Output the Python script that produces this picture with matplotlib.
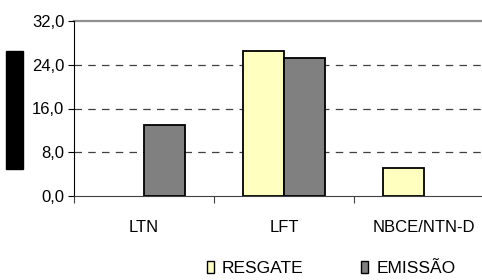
import numpy as np
import matplotlib
matplotlib.use('Agg')
import matplotlib.pyplot as plt
from matplotlib.patches import Patch, Rectangle

plt.rcParams['font.family'] = ['Liberation Sans', 'DejaVu Sans']

# Data
categories = ['LTN', 'LFT', 'NBCE/NTN-D']
resgate = [0.0, 26.5, 5.1]
emissao = [12.9, 25.3, 0.0]
series_names = ['RESGATE', 'EMISSÃO']
y_ticks = [0, 8, 16, 24, 32]

yellow = '#FFFFC0'
gray = '#808080'

fig = plt.figure(figsize=(4.82, 2.80), dpi=100)
ax = fig.add_axes([74 / 482, 84 / 280, 420 / 482, 175 / 280])

x = np.arange(len(categories))
w = 0.293
# skip empty bars so no edge line shows on the axis
for vals, off, col in [(resgate, -w / 2, yellow), (emissao, w / 2, gray)]:
    vals = np.array(vals)
    keep = vals > 0
    ax.bar(x[keep] + off, vals[keep], w, color=col, edgecolor='black', linewidth=1.3, zorder=3)

ax.set_xlim(-0.5, 2.5)
ax.set_ylim(0, 32)

# dashed grid, solid top line
for v in y_ticks[1:-1]:
    ax.axhline(v, color='#404040', linestyle=(0, (6, 5)), linewidth=0.9, zorder=1)
ax.axhline(32, color='#909090', linewidth=1.6, zorder=1, clip_on=False)

ax.spines['top'].set_visible(False)
ax.spines['right'].set_visible(False)
ax.spines['left'].set_color('black')
ax.spines['bottom'].set_color('#404040')

ax.set_yticks(y_ticks)
ax.set_yticklabels([f'{v:.1f}'.replace('.', ',') for v in y_ticks])
ax.tick_params(axis='y', length=4, width=0.8, pad=3, labelsize=12)

ax.set_xticks(x)
ax.set_xticklabels(categories)
ax.set_xticks([-0.5, 0.5, 1.5], minor=True)
ax.tick_params(axis='x', which='major', length=0, pad=17, labelsize=12)
ax.tick_params(axis='x', which='minor', length=5, width=0.8, color='#404040')

# redacted y label block
fig.patches.append(Rectangle((6 / 482, 1 - 169 / 280), 17 / 482, 118 / 280,
                             transform=fig.transFigure, color='black'))

handles = [Patch(facecolor=yellow, edgecolor='black', linewidth=1.0),
           Patch(facecolor=gray, edgecolor='black', linewidth=1.0)]
fig.legend(handles, series_names, loc='center left', bbox_to_anchor=(207 / 482, 0.04),
           ncol=2, frameon=False, borderpad=0, borderaxespad=0,
           handlelength=0.42, handleheight=0.7, handletextpad=0.45, columnspacing=3.3,
           prop={'size': 12.5})

fig.savefig('out.png', dpi=100)
